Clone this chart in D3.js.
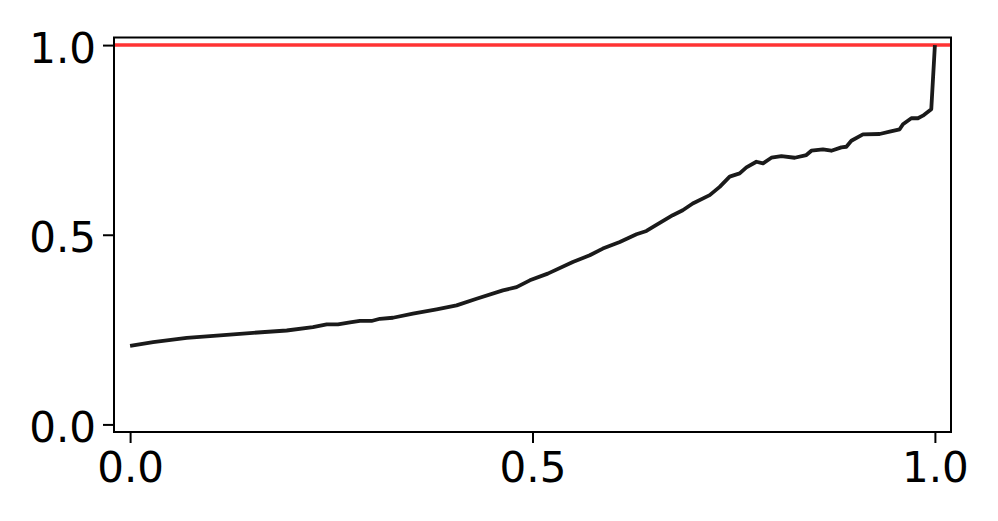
<!DOCTYPE html>
<html>
<head>
<meta charset="utf-8">
<script src="https://cdn.jsdelivr.net/npm/d3@7"></script>
<style>
  body { margin: 0; background: #fff; }
  svg { display: block; }
</style>
</head>
<body>
<script>
// curve
var xs = [0, 0.0286, 0.0704, 0.1118, 0.1527, 0.1946, 0.2272, 0.2443, 0.2583, 0.2732,
          0.2856, 0.300, 0.3104, 0.3266, 0.3514, 0.3809, 0.4057, 0.4305, 0.4632, 0.4802,
          0.4967, 0.519, 0.5501, 0.5712, 0.5874, 0.6085, 0.6292, 0.6416, 0.6519, 0.6743,
          0.6867, 0.6991, 0.7202, 0.7326, 0.745, 0.7574, 0.7658, 0.7782, 0.7864, 0.7968,
          0.8093, 0.8258, 0.8403, 0.8465, 0.8609, 0.8713, 0.8838, 0.89, 0.8962, 0.9106,
          0.9313, 0.9438, 0.9562, 0.9603, 0.9707, 0.9789, 0.9851, 0.9955, 1.0];
var ys = [0.207, 0.217, 0.228, 0.235, 0.2415, 0.2476, 0.2563, 0.2635, 0.2635, 0.2688,
          0.2727, 0.2727, 0.2785, 0.2812, 0.2918, 0.3031, 0.3137, 0.3314, 0.3533, 0.362,
          0.3798, 0.3975, 0.4281, 0.4458, 0.4635, 0.481, 0.5013, 0.51, 0.5233, 0.5515,
          0.5647, 0.5825, 0.6044, 0.6263, 0.6533, 0.6617, 0.6776, 0.6924, 0.6882, 0.703,
          0.7075, 0.703, 0.7101, 0.7215, 0.7252, 0.7215, 0.7304, 0.732, 0.7479, 0.7648,
          0.7656, 0.7717, 0.778, 0.7912, 0.8071, 0.8071, 0.814, 0.8309, 1.0];
var refLevel = 1.0;
var xTicks = [0, 0.5, 1.0];
var yTicks = [0, 0.5, 1.0];

var W = 998, H = 521,
    margin = {top: 37.5, right: 47, bottom: 89, left: 114},
    w = W - margin.left - margin.right,
    h = H - margin.top - margin.bottom,
    font = {family: "DejaVu Sans", size: "42px"},
    col = {curve: "#1a1a1a", ref: "#ff3333", axis: "#000"};

var svg = d3.select("body").append("svg")
    .attr("width", W)
    .attr("height", H)
    .append("g")
        .attr("transform", "translate(" + margin.left + "," + margin.top + ")");

var x = d3.scaleLinear().domain([-0.02, 1.02]).range([0, w]);
var y = d3.scaleLinear().domain([-0.02, 1.02]).range([h, 0]);

svg.append("defs").append("clipPath")
    .attr("id", "clip")
    .append("rect")
        .attr("width", w)
        .attr("height", h);

// reference line at 1.0
svg.append("line")
    .attr("clip-path", "url(#clip)")
    .attr("x1", 0).attr("x2", w)
    .attr("y1", y(refLevel)).attr("y2", y(refLevel))
    .attr("stroke", col.ref)
    .attr("stroke-width", 3.5);

// curve
var line = d3.line()
    .x(function(d, i) { return x(xs[i]); })
    .y(function(d, i) { return y(ys[i]); });

svg.append("path")
    .datum(ys)
    .attr("clip-path", "url(#clip)")
    .attr("d", line)
    .attr("fill", "none")
    .attr("stroke", col.curve)
    .attr("stroke-width", 3.8)
    .attr("stroke-linejoin", "round");

// X axis
var xAxis = svg.append("g")
    .attr("transform", "translate(0," + h + ")")
    .call(d3.axisBottom(x).tickValues(xTicks).tickFormat(d3.format(".1f"))
        .tickSize(11).tickPadding(9.5));
// Y axis
var yAxis = svg.append("g")
    .call(d3.axisLeft(y).tickValues(yTicks).tickFormat(d3.format(".1f"))
        .tickSize(11).tickPadding(7));

svg.selectAll(".domain").remove();
svg.selectAll(".tick line")
    .attr("stroke", col.axis)
    .attr("stroke-width", 2);
svg.selectAll(".tick text")
    .attr("font-family", font.family)
    .attr("font-size", font.size)
    .attr("fill", "#000");
yAxis.selectAll(".tick text").attr("dy", "0.405em");

// spines
svg.append("rect")
    .attr("width", w)
    .attr("height", h)
    .attr("fill", "none")
    .attr("stroke", col.axis)
    .attr("stroke-width", 2);
</script>
</body>
</html>
